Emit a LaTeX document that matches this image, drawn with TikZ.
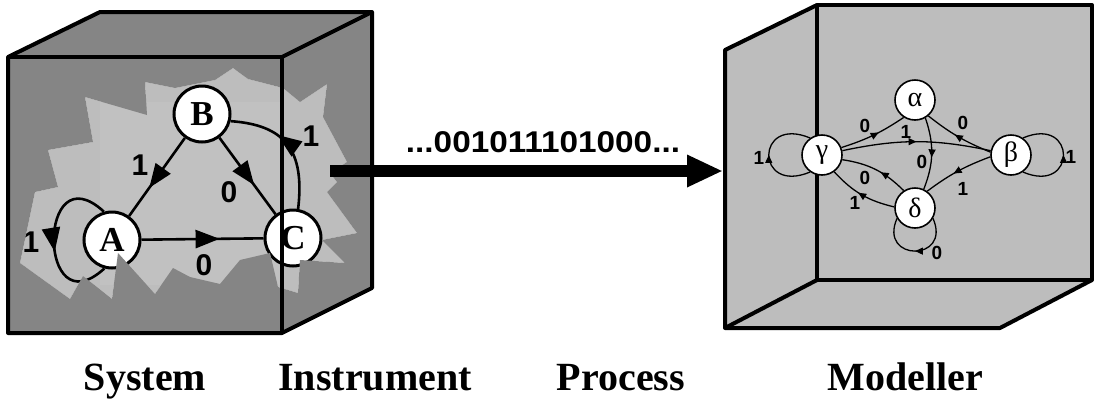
\documentclass[tikz,border=0pt]{standalone}
\usepackage{fontspec}
\setmainfont{Liberation Serif}
\newfontfamily\helv{Liberation Sans}
\usetikzlibrary{arrows.meta,decorations.markings}
\definecolor{darkg}{gray}{0.52}
\definecolor{lightg}{gray}{0.74}
\definecolor{lighterg}{gray}{0.755}
\tikzset{
  bignode/.style={circle,draw=black,fill=white,line width=3pt,minimum size=56pt,inner sep=0pt,font=\bfseries\fontsize{35}{35}\selectfont},
  smallnode/.style={circle,draw=black,fill=white,line width=1.6pt,minimum size=40pt,inner sep=0pt,font=\fontsize{28}{28}\selectfont},
  bigedge/.style={line width=2.6pt},
  smalledge/.style={line width=1.3pt},
  bigmid/.style={postaction={decorate},decoration={markings,mark=at position #1 with {\arrow{Triangle[length=24pt 0 0,width=18pt 0 0]}}}},
  smallmid/.style={postaction={decorate},decoration={markings,mark=at position #1 with {\arrow{Triangle[length=8pt 0 0,width=7pt 0 0]}}}},
  biglab/.style={font=\helv\bfseries\fontsize{30}{30}\selectfont,inner sep=0pt},
  smalllab/.style={font=\helv\bfseries\fontsize{19}{19}\selectfont,inner sep=0pt},
  caption/.style={font=\bfseries\fontsize{40}{40}\selectfont,anchor=base,inner sep=0pt},
  cubeline/.style={line width=4pt,line join=round},
}
\begin{document}
\begin{tikzpicture}[x=1pt,y=-1pt]
\useasboundingbox (0,0) rectangle (1098,400);
% ---------- left cube: visible interior ----------
\fill[lightg] (85,97) -- (147,115) -- (145,82) -- (175,88) -- (215,80) -- (233,68) -- (248,79) -- (283,88) -- (300,102) -- (327,84) -- (323,117) -- (347,162) -- (330,173) -- (337,182) -- (327,192) -- (357,233) -- (322,240) -- (345,263) -- (300,260) -- (298,293) -- (278,287) -- (270,253) -- (240,260) -- (220,284) -- (190,277) -- (173,268) -- (155,294) -- (118,253) -- (112,299) -- (97,287) -- (83,276) -- (70,299) -- (20,263) -- (35,192) -- (58,187) -- (48,150) -- (93,142) -- cycle;
\fill[lighterg] (100,102) rectangle (282,285);
% graph of the system
\node[bignode] (A) at (112,240) {A};
\node[bignode] (B) at (202,114) {B};
\node[bignode] (C) at (293,238) {C};
\draw[bigedge,bigmid=0.64] (B) -- (A);
\draw[bigedge,bigmid=0.62] (B) -- (C);
\draw[bigedge,bigmid=0.64] (A) -- (C);
\draw[bigedge,bigmid=0.62] (C.80) .. controls (305,150) and (285,125) .. (B.-14);
\draw[bigedge,bigmid=0.57] (A.106) .. controls (37,150) and (37,330) .. (A.255);
\node[biglab] (l1) at (140,165) {1};
\node[biglab] (l2) at (229,192) {0};
\node[biglab] (l3) at (204,265) {0};
\node[biglab] (l4) at (311,136) {1};
\node[biglab] (l5) at (31,242) {1};
% ---------- left cube: opaque faces with torn hole ----------
\fill[darkg,even odd rule] (8,57) -- (100,12) -- (372,12) -- (372,288) -- (282,333) -- (8,333) -- cycle
 (85,97) -- (147,115) -- (145,82) -- (175,88) -- (215,80) -- (233,68) -- (248,79) -- (283,88) -- (300,102) -- (327,84) -- (323,117) -- (347,162) -- (330,173) -- (337,182) -- (327,192) -- (357,233) -- (322,240) -- (345,263) -- (300,260) -- (298,293) -- (278,287) -- (270,253) -- (240,260) -- (220,284) -- (190,277) -- (173,268) -- (155,294) -- (118,253) -- (112,299) -- (97,287) -- (83,276) -- (70,299) -- (20,263) -- (35,192) -- (58,187) -- (48,150) -- (93,142) -- cycle;
\draw[cubeline] (8,57) -- (100,12) -- (372,12) -- (372,288) -- (282,333) -- (8,333) -- cycle;
\draw[cubeline] (8,57) -- (282,57) -- (282,333);
\draw[cubeline] (282,57) -- (372,12);
% ---------- right cube ----------
\fill[lightg] (817,5) rectangle (1092,280);
\fill[lightg] (725,50) -- (817,5) -- (817,280) -- (725,328) -- cycle;
\fill[lightg] (725,328) -- (817,280) -- (1092,280) -- (1000,328) -- cycle;
\draw[cubeline] (817,5) rectangle (1092,280);
\draw[cubeline] (817,5) -- (725,50) -- (725,328) -- (1000,328) -- (1092,280);
\draw[cubeline] (725,328) -- (817,280);
% ---------- process arrow ----------
\coordinate (arrS) at (330,171);
\coordinate (arrE) at (723,171);
\draw[line width=12pt,-{Triangle[length=36pt 0 0,width=30pt 0 0]}] (arrS) -- (arrE);
\node[font=\helv\bfseries\fontsize{30}{30}\selectfont,anchor=base,xscale=1.11,inner sep=0pt] (bits) at (543,152) {...001011101000...};
% ---------- model graph ----------
\node[smallnode] (al) at (915,100) {α};
\node[smallnode] (be) at (1011,155) {β};
\node[smallnode] (ga) at (822,155) {γ};
\node[smallnode] (de) at (915,208) {δ};
\draw[smalledge,smallmid=0.58] (ga.21) to[bend right=8] (al.237);
\draw[smalledge,smallmid=0.55] (be.172) to[bend left=8] (al.-50);
\draw[smalledge,smallmid=0.5] (ga) to[bend left=12] (be);
\draw[smalledge,smallmid=0.55] (al.-60) to[bend left=20] (de.65);
\draw[smalledge,smallmid=0.42] (de.123) to[bend right=18] (ga.-13);
\draw[smalledge,smallmid=0.55] (de.177) to[bend left=17] (ga.-54);
\draw[smalledge,smallmid=0.56] (be.185) to[bend right=8] (de.54);
\draw[smalledge,smallmid=0.5] (ga.235) .. controls (755,195) and (755,115) .. (ga.125);
\draw[smalledge,smallmid=0.5] (be.-55) .. controls (1077,195) and (1077,115) .. (be.55);
\draw[smalledge,smallmid=0.5] (de.-30) .. controls (952,262) and (878,262) .. (de.210);
\node[smalllab] (m1) at (865,126) {0};
\node[smalllab] (m2) at (906,132) {1};
\node[smalllab] (m3) at (963,123) {0};
\node[smalllab] (m4) at (922,162) {0};
\node[smalllab] (m5) at (865,178) {0};
\node[smalllab] (m6) at (963,189) {1};
\node[smalllab] (m7) at (855,203) {1};
\node[smalllab] (m8) at (937,253) {0};
\node[smalllab] (m9) at (759,158) {1};
\node[smalllab] (m10) at (1071,157) {1};
% ---------- captions ----------
\node[caption] (cs) at (145,390) {System};
\node[caption] (ci) at (375,390) {Instrument};
\node[caption] (cp) at (621,390) {Process};
\node[caption] (cm) at (905,390) {Modeller};
\end{tikzpicture}
\end{document}
